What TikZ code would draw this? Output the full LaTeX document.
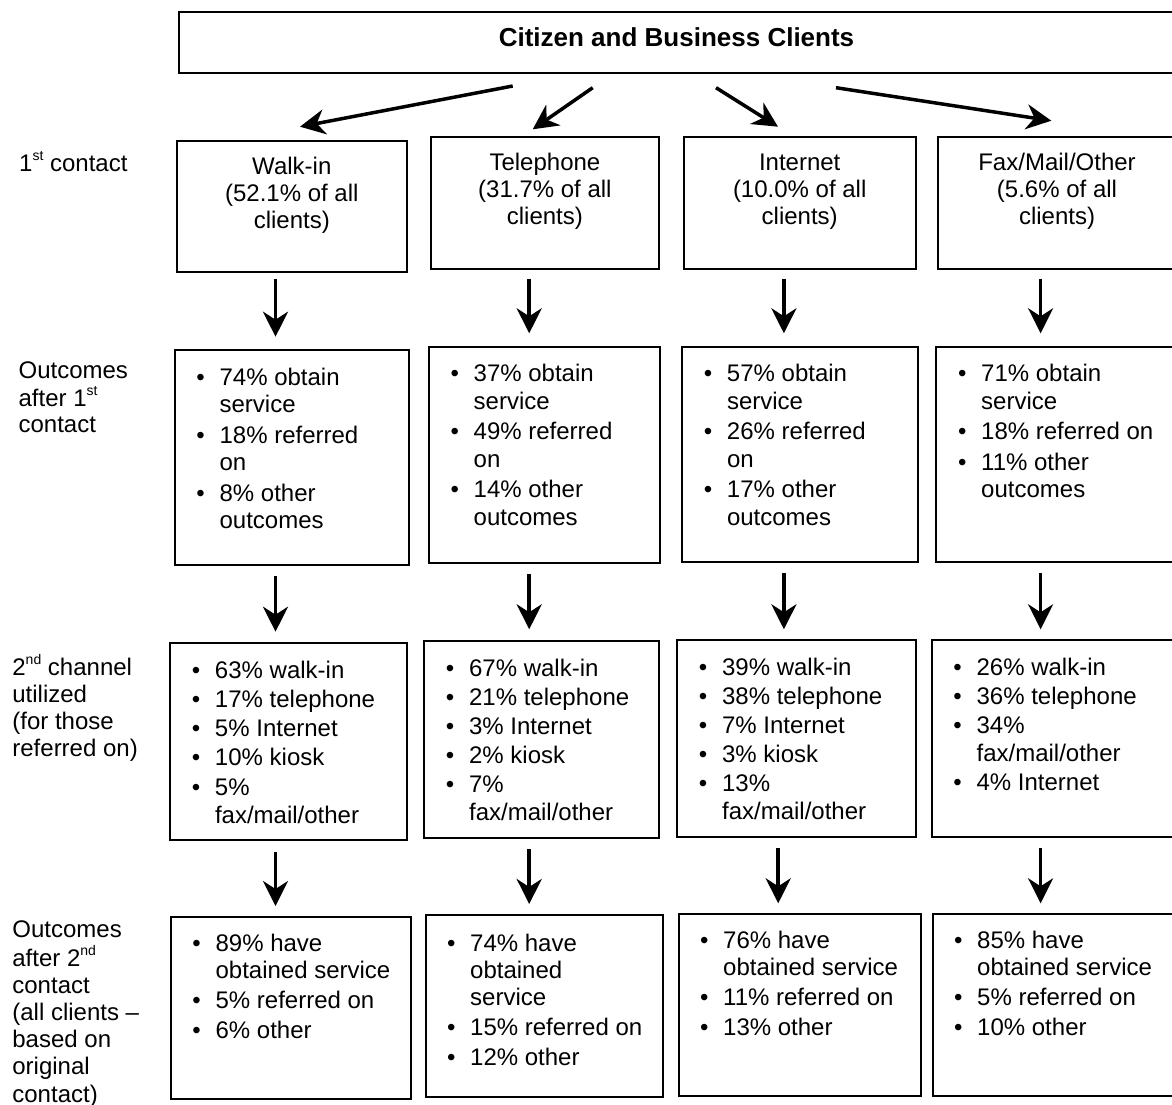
\documentclass[tikz,border=0pt]{standalone}
\usepackage{fontspec}
\setmainfont{Liberation Sans}
\usetikzlibrary{arrows.meta}
\newcommand\supr[1]{\raisebox{11pt}{\fontsize{14}{14}\selectfont #1}}
\newcommand\bul{\makebox[0pt][c]{\textbullet}\hspace{19pt}}
\newcommand\cont{\hspace{19pt}}
\begin{document}
\begin{tikzpicture}[x=1pt,y=-1pt,
  box/.style={draw, line width=2pt, inner sep=0pt, outer sep=0pt, anchor=north west},
  arr/.style={-{Stealth[length=25pt,width=25pt,inset=8pt]}, line width=3.5pt},
  txt/.style={inner sep=0pt, anchor=base west},
  ctxt/.style={inner sep=0pt, anchor=base, font=\fontsize{24}{27}\selectfont},
  rowa/.style={txt, font=\fontsize{24}{27.5}\selectfont},
  rowb/.style={txt, font=\fontsize{24}{28}\selectfont},
  rowc/.style={txt, font=\fontsize{24}{27}\selectfont}]
\useasboundingbox (0,0) rectangle (1172,1104);

% top box
\node[box, minimum width=994.7pt, minimum height=61.6pt] (top) at (179.3,11.7) {};
\node[inner sep=0pt, anchor=base, font=\fontsize{26}{30}\selectfont\bfseries] (toptxt) at (676.5,46.7) {Citizen and Business Clients};

% row labels
\node[txt, font=\fontsize{24}{27}\selectfont] (l1) at (19,171) {1\supr{st} contact};
\node[txt, font=\fontsize{24}{26.2}\selectfont] (l2) at (18.4,378.3) {\begin{tabular}[t]{@{}l@{}}Outcomes\\ after 1\supr{st}\\ contact\end{tabular}};
\node[txt, font=\fontsize{24}{27.2}\selectfont] (l3) at (12.2,675) {\begin{tabular}[t]{@{}l@{}}2\supr{nd} channel\\ utilized\\ (for those\\ referred on)\end{tabular}};
\node[txt, font=\fontsize{24}{27.1}\selectfont] (l4) at (12.2,937.3) {\begin{tabular}[t]{@{}l@{}}Outcomes\\ after 2\supr{nd}\\ contact\\ (all clients --\\ based on\\ original\\ contact)\end{tabular}};

% row 1 boxes
\node[box, minimum width=230pt, minimum height=131.6pt] (W1) at (176.8,140.7) {};
\node[box, minimum width=227.2pt, minimum height=131.7pt] (T1) at (431.3,137.3) {};
\node[box, minimum width=231.8pt, minimum height=131.7pt] (I1) at (683.8,137.3) {};
\node[box, minimum width=237.7pt, minimum height=131.7pt] (F1) at (938.3,137.3) {};
\node[ctxt] (W1t) at (291.8,174) {\begin{tabular}[t]{@{}c@{}}Walk-in\\ (52.1\% of all\\ clients)\end{tabular}};
\node[ctxt] (T1t) at (544.9,170.6) {\begin{tabular}[t]{@{}c@{}}Telephone\\ (31.7\% of all\\ clients)\end{tabular}};
\node[ctxt] (I1t) at (799.7,170.6) {\begin{tabular}[t]{@{}c@{}}Internet\\ (10.0\% of all\\ clients)\end{tabular}};
\node[ctxt] (F1t) at (1057,170.6) {\begin{tabular}[t]{@{}c@{}}Fax/Mail/Other\\ (5.6\% of all\\ clients)\end{tabular}};

% row 2 boxes
\node[box, minimum width=233.8pt, minimum height=215pt] (W2) at (174.9,350) {};
\node[box, minimum width=231pt, minimum height=215.4pt] (T2) at (429,347.3) {};
\node[box, minimum width=235.6pt, minimum height=214.7pt] (I2) at (682.3,347.3) {};
\node[box, minimum width=240pt, minimum height=214.7pt] (F2) at (936.4,347.3) {};
\node[rowa] (W2t) at (200.4,385) {\begin{tabular}[t]{@{}l@{}}\bul 74\% obtain\\ \cont service\\[3pt] \bul 18\% referred\\ \cont on\\[3pt] \bul 8\% other\\ \cont outcomes\end{tabular}};
\node[rowa] (T2t) at (454.5,381.7) {\begin{tabular}[t]{@{}l@{}}\bul 37\% obtain\\ \cont service\\[3pt] \bul 49\% referred\\ \cont on\\[3pt] \bul 14\% other\\ \cont outcomes\end{tabular}};
\node[rowa] (I2t) at (707.8,381.7) {\begin{tabular}[t]{@{}l@{}}\bul 57\% obtain\\ \cont service\\[3pt] \bul 26\% referred\\ \cont on\\[3pt] \bul 17\% other\\ \cont outcomes\end{tabular}};
\node[rowa] (F2t) at (962,381.7) {\begin{tabular}[t]{@{}l@{}}\bul 71\% obtain\\ \cont service\\[3pt] \bul 18\% referred on\\[3pt] \bul 11\% other\\ \cont outcomes\end{tabular}};

% row 3 boxes
\node[box, minimum width=236.5pt, minimum height=196.7pt] (W3) at (170.3,643.3) {};
\node[box, minimum width=234.1pt, minimum height=197.3pt] (T3) at (424.4,641) {};
\node[box, minimum width=238.2pt, minimum height=197.3pt] (I3) at (677.4,640) {};
\node[box, minimum width=244pt, minimum height=197.3pt] (F3) at (931.9,640) {};
\node[rowb] (W3t) at (195.8,678.3) {\begin{tabular}[t]{@{}l@{}}\bul 63\% walk-in\\[1.2pt] \bul 17\% telephone\\[1.2pt] \bul 5\% Internet\\[1.2pt] \bul 10\% kiosk\\[1.2pt] \bul 5\%\\ \cont fax/mail/other\end{tabular}};
\node[rowb] (T3t) at (449.9,676) {\begin{tabular}[t]{@{}l@{}}\bul 67\% walk-in\\[1.2pt] \bul 21\% telephone\\[1.2pt] \bul 3\% Internet\\[1.2pt] \bul 2\% kiosk\\[1.2pt] \bul 7\%\\ \cont fax/mail/other\end{tabular}};
\node[rowb] (I3t) at (702.9,675) {\begin{tabular}[t]{@{}l@{}}\bul 39\% walk-in\\[1.2pt] \bul 38\% telephone\\[1.2pt] \bul 7\% Internet\\[1.2pt] \bul 3\% kiosk\\[1.2pt] \bul 13\%\\ \cont fax/mail/other\end{tabular}};
\node[rowb] (F3t) at (957.4,675) {\begin{tabular}[t]{@{}l@{}}\bul 26\% walk-in\\[1.2pt] \bul 36\% telephone\\[1.2pt] \bul 34\%\\ \cont fax/mail/other\\[1.2pt] \bul 4\% Internet\end{tabular}};

% row 4 boxes
\node[box, minimum width=240pt, minimum height=182.6pt] (W4) at (171.4,916.7) {};
\node[box, minimum width=237.1pt, minimum height=182.3pt] (T4) at (425.9,915) {};
\node[box, minimum width=241.7pt, minimum height=181.7pt] (I4) at (678.9,914.3) {};
\node[box, minimum width=243pt, minimum height=181.7pt] (F4) at (933,914.3) {};
\node[rowc] (W4t) at (196.4,951.7) {\begin{tabular}[t]{@{}l@{}}\bul 89\% have\\ \cont obtained service\\[3pt] \bul 5\% referred on\\[3pt] \bul 6\% other\end{tabular}};
\node[rowc] (T4t) at (451,951.7) {\begin{tabular}[t]{@{}l@{}}\bul 74\% have\\ \cont obtained\\ \cont service\\[3pt] \bul 15\% referred on\\[3pt] \bul 12\% other\end{tabular}};
\node[rowc] (I4t) at (704,948.5) {\begin{tabular}[t]{@{}l@{}}\bul 76\% have\\ \cont obtained service\\[3pt] \bul 11\% referred on\\[3pt] \bul 13\% other\end{tabular}};
\node[rowc] (F4t) at (958,948.5) {\begin{tabular}[t]{@{}l@{}}\bul 85\% have\\ \cont obtained service\\[3pt] \bul 5\% referred on\\[3pt] \bul 10\% other\end{tabular}};

% diagonal arrows from top box
\coordinate (s1) at (512.7,86);   \coordinate (e1) at (300,126.7);
\coordinate (s2) at (592.7,87.7); \coordinate (e2) at (532.7,129.3);
\coordinate (s3) at (716,87.7);   \coordinate (e3) at (778,126.7);
\coordinate (s4) at (836,87.7);   \coordinate (e4) at (1051.3,120.7);
\draw[arr] (s1) -- (e1);
\draw[arr] (s2) -- (e2);
\draw[arr] (s3) -- (e3);
\draw[arr] (s4) -- (e4);

% vertical arrow columns
\coordinate (c1) at (275.5,0);
\coordinate (c2) at (529.2,0);
\coordinate (c3) at (783.9,0);
\coordinate (c3b) at (778.2,0);
\coordinate (c4) at (1040.6,0);

\draw[arr, shorten <=6.4pt, shorten >=13.3pt] (W1.south -| c1) -- (W2.north -| c1);
\draw[arr, shorten <=9.7pt, shorten >=14pt] (T1.south -| c2) -- (T2.north -| c2);
\draw[arr, shorten <=10pt, shorten >=14pt] (I1.south -| c3) -- (I2.north -| c3);
\draw[arr, shorten <=10pt, shorten >=14pt] (F1.south -| c4) -- (F2.north -| c4);

\draw[arr, shorten <=11pt, shorten >=11.6pt] (W2.south -| c1) -- (W3.north -| c1);
\draw[arr, shorten <=11.3pt, shorten >=11.7pt] (T2.south -| c2) -- (T3.north -| c2);
\draw[arr, shorten <=11.3pt, shorten >=10.7pt] (I2.south -| c3) -- (I3.north -| c3);
\draw[arr, shorten <=11.3pt, shorten >=10.7pt] (F2.south -| c4) -- (F3.north -| c4);

\draw[arr, shorten <=12.3pt, shorten >=10.7pt] (W3.south -| c1) -- (W4.north -| c1);
\draw[arr, shorten <=11pt, shorten >=11pt] (T3.south -| c2) -- (T4.north -| c2);
\draw[arr, shorten <=11pt, shorten >=11pt] (I3.south -| c3b) -- (I4.north -| c3b);
\draw[arr, shorten <=11pt, shorten >=11pt] (F3.south -| c4) -- (F4.north -| c4);
\end{tikzpicture}
\end{document}
